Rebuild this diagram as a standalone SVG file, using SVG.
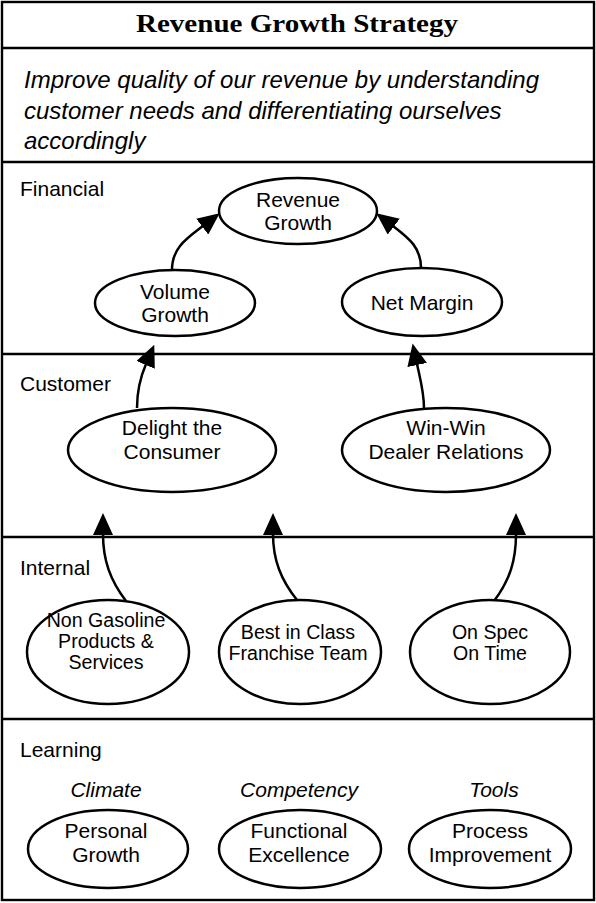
<svg xmlns="http://www.w3.org/2000/svg" width="596" height="903" viewBox="0 0 596 903">
  <style>
    .frame { fill: none; stroke: #000; stroke-width: 2.4; }
    .rule { stroke: #000; stroke-width: 2.4; }
    .node ellipse { fill: #fff; stroke: #000; stroke-width: 2.5; }
    .lbl { font-family: "Liberation Sans", Arial, sans-serif; font-size: 21px; fill: #000; text-anchor: middle; }
    .small { font-size: 19.6px; }
    .sec { font-family: "Liberation Sans", Arial, sans-serif; font-size: 21px; fill: #000; }
    .cat { font-family: "Liberation Sans", Arial, sans-serif; font-size: 21px; font-style: italic; fill: #000; text-anchor: middle; }
    .edge { fill: none; stroke: #000; stroke-width: 2.5; marker-end: url(#head); }
  </style>
  <defs>
    <marker id="head" viewBox="0 0 22 20" refX="1" refY="10" markerWidth="22" markerHeight="20" markerUnits="userSpaceOnUse" orient="auto">
      <path d="M0,0 L22,10 L0,20 z" fill="#000"/>
    </marker>
  </defs>

  <rect width="596" height="903" fill="#fff"/>

  <!-- outer frame and perspective bands -->
  <rect class="frame" x="2" y="2" width="592" height="898"/>
  <line class="rule" x1="2" y1="48" x2="594" y2="48"/>
  <line class="rule" x1="2" y1="162" x2="594" y2="162"/>
  <line class="rule" x1="2" y1="354" x2="594" y2="354"/>
  <line class="rule" x1="2" y1="537" x2="594" y2="537"/>
  <line class="rule" x1="2" y1="719" x2="594" y2="719"/>

  <!-- heading -->
  <text x="297" y="32" font-family="'Liberation Serif', 'Times New Roman', serif" font-weight="bold" font-size="25" text-anchor="middle" textLength="322" lengthAdjust="spacingAndGlyphs">Revenue Growth Strategy</text>
  <g font-family="'Liberation Sans', Arial, sans-serif" font-size="24" font-style="italic">
    <text x="24" y="88">Improve quality of our revenue by understanding</text>
    <text x="24" y="119">customer needs and differentiating ourselves</text>
    <text x="24" y="149">accordingly</text>
  </g>

  <!-- band titles -->
  <text class="sec" x="20" y="196">Financial</text>
  <text class="sec" x="20" y="391">Customer</text>
  <text class="sec" x="20" y="575">Internal</text>
  <text class="sec" x="20" y="757">Learning</text>

  <!-- connectors -->
  <g id="connectors">
    <path class="edge" d="M172,270 C172,248 186,239 203,226"/>
    <path class="edge" d="M421,268 C421,248 410,239 393,226"/>
    <path class="edge" d="M137,408 C137,392 140,378 146,364"/>
    <path class="edge" d="M424,408 C424,392 420,378 417,364"/>
    <path class="edge" d="M126,601 C110,580 103,560 103,534"/>
    <path class="edge" d="M297,600 C281,580 273,560 273,534"/>
    <path class="edge" d="M494,601 C510,580 516,560 516,534"/>
  </g>

  <!-- Financial -->
  <g id="revenue-growth" class="node">
    <ellipse cx="298" cy="211" rx="79" ry="33"/>
    <text class="lbl" x="298" y="207">Revenue</text>
    <text class="lbl" x="298" y="230">Growth</text>
  </g>
  <g id="volume-growth" class="node">
    <ellipse cx="175" cy="303" rx="80" ry="33"/>
    <text class="lbl" x="175" y="299">Volume</text>
    <text class="lbl" x="175" y="322">Growth</text>
  </g>
  <g id="net-margin" class="node">
    <ellipse cx="422" cy="302" rx="80" ry="34"/>
    <text class="lbl" x="422" y="310">Net Margin</text>
  </g>

  <!-- Customer -->
  <g id="delight-consumer" class="node">
    <ellipse cx="172" cy="450" rx="104" ry="42"/>
    <text class="lbl" x="172" y="435">Delight the</text>
    <text class="lbl" x="172" y="459">Consumer</text>
  </g>
  <g id="dealer-relations" class="node">
    <ellipse cx="446" cy="450" rx="104" ry="42"/>
    <text class="lbl" x="446" y="435">Win-Win</text>
    <text class="lbl" x="446" y="459">Dealer Relations</text>
  </g>

  <!-- Internal -->
  <g id="non-gasoline" class="node">
    <ellipse cx="108" cy="652" rx="81" ry="52"/>
    <text class="lbl small" x="106" y="627">Non Gasoline</text>
    <text class="lbl small" x="106" y="648">Products &amp;</text>
    <text class="lbl small" x="106" y="669">Services</text>
  </g>
  <g id="franchise-team" class="node">
    <ellipse cx="300" cy="652" rx="81" ry="52"/>
    <text class="lbl small" x="298" y="639">Best in Class</text>
    <text class="lbl small" x="298" y="660">Franchise Team</text>
  </g>
  <g id="on-spec" class="node">
    <ellipse cx="490" cy="652" rx="80" ry="52"/>
    <text class="lbl small" x="490" y="639">On Spec</text>
    <text class="lbl small" x="490" y="660">On Time</text>
  </g>

  <!-- Learning -->
  <text class="cat" x="106" y="797">Climate</text>
  <text class="cat" x="299" y="797">Competency</text>
  <text class="cat" x="494" y="797">Tools</text>
  <g id="personal-growth" class="node">
    <ellipse cx="108" cy="849" rx="80" ry="39"/>
    <text class="lbl" x="106" y="838">Personal</text>
    <text class="lbl" x="106" y="862">Growth</text>
  </g>
  <g id="functional-excellence" class="node">
    <ellipse cx="300" cy="849" rx="81" ry="39"/>
    <text class="lbl" x="299" y="838">Functional</text>
    <text class="lbl" x="299" y="862">Excellence</text>
  </g>
  <g id="process-improvement" class="node">
    <ellipse cx="490" cy="849" rx="81" ry="39"/>
    <text class="lbl" x="490" y="838">Process</text>
    <text class="lbl" x="490" y="862">Improvement</text>
  </g>
</svg>
